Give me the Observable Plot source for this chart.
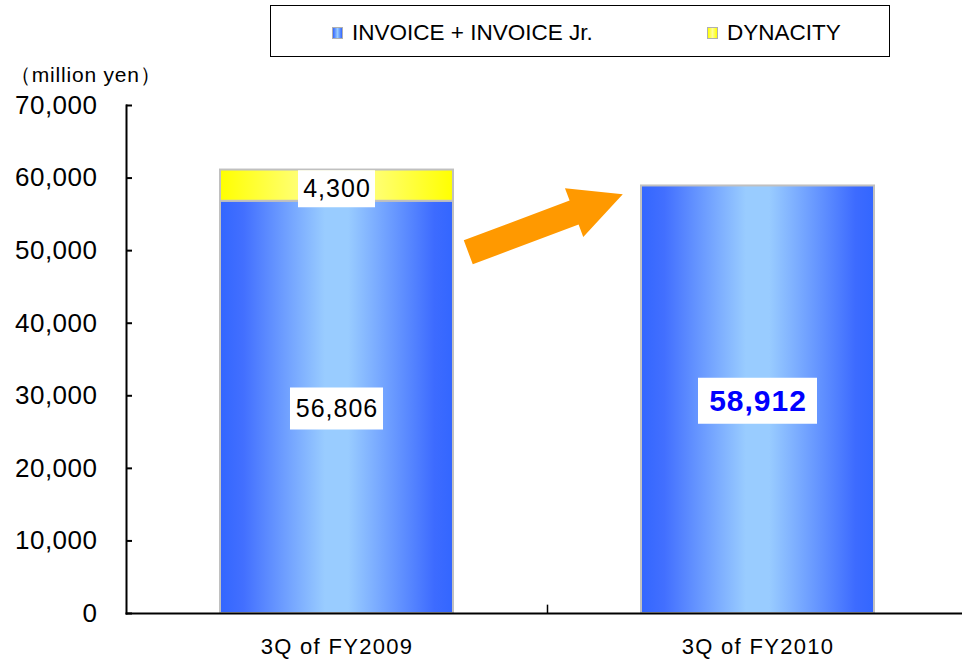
<!DOCTYPE html>
<html>
<head>
<meta charset="utf-8">
<script src="https://cdn.jsdelivr.net/npm/d3@7"></script>
<script src="https://cdn.jsdelivr.net/npm/@observablehq/plot@0.6"></script>
<style>
  html, body { margin: 0; padding: 0; background: #fff; }
  #wrap { position: relative; width: 962px; height: 661px; overflow: hidden; font-family: "Liberation Sans", Arial, sans-serif; }
  #chart { position: absolute; left: 0; top: 0; }
  #legend { position: absolute; left: 270px; top: 5px; width: 620px; height: 52px; border: 1.5px solid #000; box-sizing: border-box; background: #fff; }
  .item { position: absolute; top: 2px; height: 49px; display: flex; align-items: center; font-size: 22.5px; color: #000; white-space: nowrap; }
  .sw { width: 9px; height: 10px; border: 1px solid #b0b0b0; margin-right: 9px; }
  #unit { position: absolute; left: 10px; top: 61px; font-size: 21px; letter-spacing: 0.8px; color: #000; white-space: nowrap; }
</style>
</head>
<body>
<div id="wrap">
  <div id="chart"></div>
  <div id="unit"></div>
  <div id="legend"></div>
</div>
<script>
// ---- data ----
const categories = ["3Q of FY2009", "3Q of FY2010"];
const seriesNames = ["INVOICE + INVOICE Jr.", "DYNACITY"];
const invoiceValues = [56806, 58912];
const dynacityValues = [4300, 0];
const yTicks = [0, 10000, 20000, 30000, 40000, 50000, 60000, 70000];
const unitLabel = "（million yen）";
// arrow annotation (data units): from category 1 to category 2
const arrowFrom = { category: "3Q of FY2009", frac: 0.813, value: 49700 };
const arrowTo = { category: "3Q of FY2010", frac: 0.18, value: 57700 };

// ---- tables ----
const barData = [];
categories.forEach((c, i) => {
  barData.push({ category: c, series: seriesNames[0], value: invoiceValues[i] });
  if (dynacityValues[i] > 0) barData.push({ category: c, series: seriesNames[1], value: dynacityValues[i] });
});
const labels = [
  { category: categories[0], y: invoiceValues[0] + dynacityValues[0] / 2, text: d3.format(",")(dynacityValues[0]) },
  { category: categories[0], y: invoiceValues[0] / 2, text: d3.format(",")(invoiceValues[0]) },
  { category: categories[1], y: invoiceValues[1] / 2, text: d3.format(",")(invoiceValues[1]) }
];

const W = 962, H = 661;
const xRange = [126, 968];
const bw = (xRange[1] - xRange[0]) / categories.length;
const barInset = 94;

function box(l, w, h, dy) {
  return Plot.tickY([l], { x: "category", y: "y", stroke: "white", strokeWidth: h,
    insetLeft: (bw - w) / 2, insetRight: (bw - w) / 2, dy });
}

const arrowMark = (index, scales) => {
  const xs = scales.x, ys = scales.y;
  const T = [xs(arrowFrom.category) + arrowFrom.frac * bw, ys(arrowFrom.value)];
  const P = [xs(arrowTo.category) + arrowTo.frac * bw, ys(arrowTo.value)];
  const dx = P[0] - T[0], dy = P[1] - T[1];
  const len = Math.hypot(dx, dy);
  const u = [dx / len, dy / len], n = [-u[1], u[0]];
  const hL = 52, w = 12.8, hw = 26;
  const B = [P[0] - u[0] * hL, P[1] - u[1] * hL];
  const pts = [
    [T[0] + n[0] * w, T[1] + n[1] * w],
    [B[0] + n[0] * w, B[1] + n[1] * w],
    [B[0] + n[0] * hw, B[1] + n[1] * hw],
    P,
    [B[0] - n[0] * hw, B[1] - n[1] * hw],
    [B[0] - n[0] * w, B[1] - n[1] * w],
    [T[0] - n[0] * w, T[1] - n[1] * w]
  ];
  const p = document.createElementNS("http://www.w3.org/2000/svg", "polygon");
  p.setAttribute("points", pts.map(d => d.join(",")).join(" "));
  p.setAttribute("fill", "#FF9900");
  return p;
};

const chart = Plot.plot({
  width: W,
  height: H,
  marginLeft: 126,
  marginRight: 0,
  marginTop: 105,
  marginBottom: 48,
  style: { fontFamily: "'Liberation Sans', Arial, sans-serif", fontSize: "22px", color: "#000", background: "#fff" },
  x: { domain: categories, range: xRange, padding: 0, label: null },
  y: { domain: [0, 70000], label: null },
  color: { domain: seriesNames, range: ["url(#gBlue)", "url(#gYellow)"] },
  marks: [
    Plot.barY(barData, { x: "category", y: "value", fill: "series", stroke: "#c0c0c0", strokeWidth: 2,
      insetLeft: barInset, insetRight: barInset }),
    box(labels[0], 77, 37, 3),
    box(labels[1], 93, 42, 1),
    box(labels[2], 119, 46, 1),
    Plot.text([labels[0]], { x: "category", y: "y", text: "text", fontSize: 25, fill: "black", dy: 3 }),
    Plot.text([labels[1]], { x: "category", y: "y", text: "text", fontSize: 25, fill: "black", dy: 2 }),
    Plot.text([labels[2]], { x: "category", y: "y", text: "text", fontSize: 30, fontWeight: "bold", fill: "#0000FF", dy: 2 }),
    arrowMark,
    Plot.frame({ anchor: "left", stroke: "black", strokeWidth: 2 }),
    Plot.frame({ anchor: "bottom", stroke: "black", strokeWidth: 2 }),
    Plot.ruleX([categories[1]], { x: d => d, y1: 0, y2: 1150, dx: -bw / 2, stroke: "black", strokeWidth: 1.5 }),
    Plot.axisY({ ticks: yTicks, tickFormat: d3.format(","), tickSize: -6, tickPadding: 35, fontSize: 26, strokeWidth: 2 }),
    Plot.axisX({ tickSize: 0, tickPadding: 25, fontSize: 22 })
  ]
});

// gradients
const defs = document.createElementNS("http://www.w3.org/2000/svg", "defs");
defs.innerHTML = `
<linearGradient id="gBlue" x1="0" x2="1" y1="0" y2="0">
  <stop offset="0" stop-color="#3366FF"/>
  <stop offset="0.1" stop-color="#426FFF"/>
  <stop offset="0.45" stop-color="#99CCFF"/>
  <stop offset="0.55" stop-color="#99CCFF"/>
  <stop offset="0.92" stop-color="#3D6BFF"/>
  <stop offset="1" stop-color="#3366FF"/>
</linearGradient>
<linearGradient id="gYellow" x1="0" x2="1" y1="0" y2="0">
  <stop offset="0" stop-color="#FFFF00"/>
  <stop offset="0.45" stop-color="#FFFF99"/>
  <stop offset="0.55" stop-color="#FFFF99"/>
  <stop offset="1" stop-color="#FFFF00"/>
</linearGradient>`;
chart.insertBefore(defs, chart.firstChild);
chart.querySelectorAll("g[aria-label='y-axis tick label']").forEach(e => e.style.letterSpacing = "0.5px");
chart.querySelectorAll("g[aria-label='x-axis tick label']").forEach(e => e.style.letterSpacing = "1.3px");
chart.querySelectorAll("g[aria-label='text']").forEach(e => e.style.letterSpacing = "1px");
document.getElementById("chart").appendChild(chart);

document.getElementById("unit").textContent = unitLabel;

// legend
const legend = document.getElementById("legend");
const swFill = ["linear-gradient(to right,#3366FF,#99CCFF,#3366FF)", "linear-gradient(to right,#FFFF00,#FFFF99,#FFFF00)"];
const itemLeft = [61, 436];
seriesNames.forEach((s, i) => {
  const it = document.createElement("div");
  it.className = "item";
  it.style.left = itemLeft[i] + "px";
  const sw = document.createElement("span");
  sw.className = "sw";
  sw.style.background = swFill[i];
  const t = document.createElement("span");
  t.textContent = s;
  it.appendChild(sw); it.appendChild(t);
  legend.appendChild(it);
});
</script>
</body>
</html>
